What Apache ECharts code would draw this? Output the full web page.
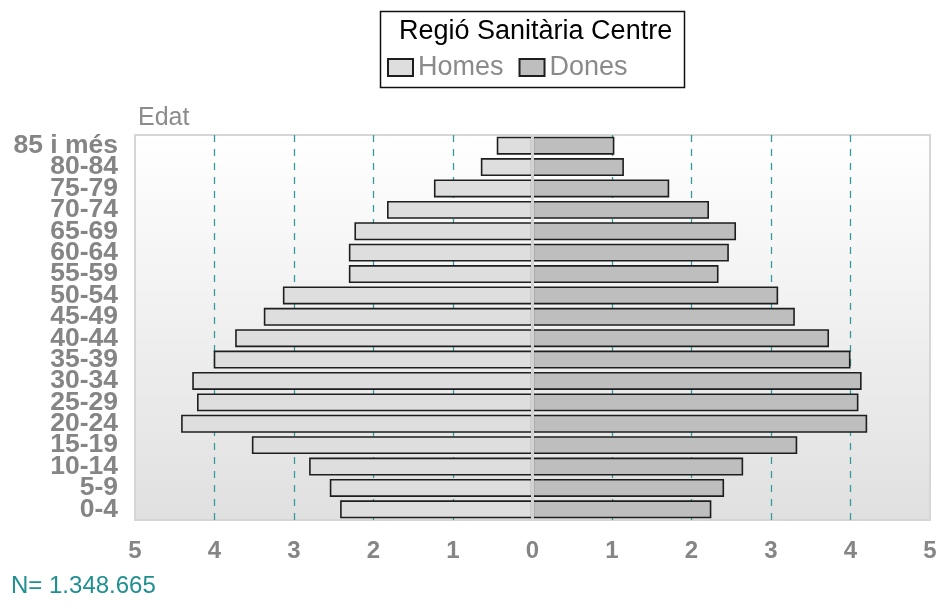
<!DOCTYPE html>
<html>
<head>
<meta charset="utf-8">
<script src="https://cdn.jsdelivr.net/npm/echarts@6/dist/echarts.min.js"></script>
<style>html,body{margin:0;padding:0;background:#fff}#c{width:942px;height:609px}</style>
</head>
<body>
<div id="c"></div>
<script>
const categories = ['0-4','5-9','10-14','15-19','20-24','25-29','30-34','35-39','40-44','45-49','50-54','55-59','60-64','65-69','70-74','75-79','80-84','85 i més'];
const homes = [2.42,2.55,2.81,3.53,4.42,4.22,4.28,4.01,3.74,3.38,3.14,2.31,2.31,2.24,1.83,1.24,0.65,0.45];
const dones = [2.25,2.41,2.65,3.33,4.21,4.10,4.14,4.00,3.73,3.30,3.09,2.34,2.47,2.56,2.22,1.72,1.15,1.03];
const xTicks = [-5,-4,-3,-2,-1,0,1,2,3,4,5];
const titleText = 'Regió Sanitària Centre';
const seriesNames = ['Homes','Dones'];
const footText = 'N= 1.348.665';
const axisTitle = 'Edat';

const FONT = '"Liberation Sans", Arial, sans-serif';
const teal = '#359a9a';
const chart = echarts.init(document.getElementById('c'), null, {renderer:'canvas'});
const gridColors = xTicks.map(v => (v === 0 || Math.abs(v) === 5) ? 'rgba(0,0,0,0)' : teal);

chart.setOption({
  animation: false,
  textStyle: {fontFamily: FONT},
  title: [
    {text: titleText, left: 394, top: 13, textStyle: {fontFamily: FONT, fontSize: 27, fontWeight: 'normal', color: '#000'}},
    {text: axisTitle, left: 133, top: 101, textStyle: {fontFamily: FONT, fontSize: 25, fontWeight: 'normal', color: '#8c8c8c'}},
    {text: footText, left: 6, top: 569, textStyle: {fontFamily: FONT, fontSize: 24, fontWeight: 'normal', color: '#1f8f8f'}}
  ],
  graphic: [{type: 'rect', shape: {x: 380.5, y: 11.5, width: 304, height: 76}, style: {fill: 'none', stroke: '#111', lineWidth: 1.5}, z: 10}],
  legend: {
    data: seriesNames, left: 382, top: 49, itemWidth: 25, itemHeight: 17, itemGap: 15,
    textStyle: {fontFamily: FONT, fontSize: 27, color: '#8a8a8a'}, icon: 'rect'
  },
  grid: {
    left: 135, right: 12, top: 135, bottom: 89, show: true,
    backgroundColor: new echarts.graphic.LinearGradient(0,0,0,1,[{offset:0,color:'#ffffff'},{offset:1,color:'#e0e0e0'}]),
    borderColor: '#d6d6d6', borderWidth: 2
  },
  xAxis: {
    type: 'value', min: -5, max: 5, interval: 1,
    axisLine: {show: false}, axisTick: {show: false},
    splitLine: {show: true, lineStyle: {color: gridColors, type: [7,7], width: 1.3}},
    axisLabel: {formatter: v => String(Math.abs(v)), fontFamily: FONT, fontSize: 24, fontWeight: 'bold', color: '#858585', margin: 19}
  },
  yAxis: {
    type: 'category', data: categories,
    axisLine: {show: false}, axisTick: {show: false}, splitLine: {show: false},
    axisLabel: {fontFamily: FONT, fontSize: 26.5, fontWeight: 'bold', color: '#858585', margin: 17, interval: 0, lineHeight: 20}
  },
  series: [
    {name: seriesNames[0], type: 'bar', stack: 'p', data: homes.map(v => -v), barCategoryGap: '16%',
     itemStyle: {color: '#dedede', borderColor: '#1e1e1e', borderWidth: 1.6}, z: 3},
    {name: seriesNames[1], type: 'bar', stack: 'p', data: dones, barCategoryGap: '16%',
     itemStyle: {color: '#bebebe', borderColor: '#1e1e1e', borderWidth: 1.6}, z: 3,
     markLine: {silent: true, symbol: 'none', label: {show: false}, lineStyle: {color: '#d2d2d2', width: 3, type: 'solid'}, data: [{xAxis: 0}], z: 5}}
  ]
});
</script>
</body>
</html>
